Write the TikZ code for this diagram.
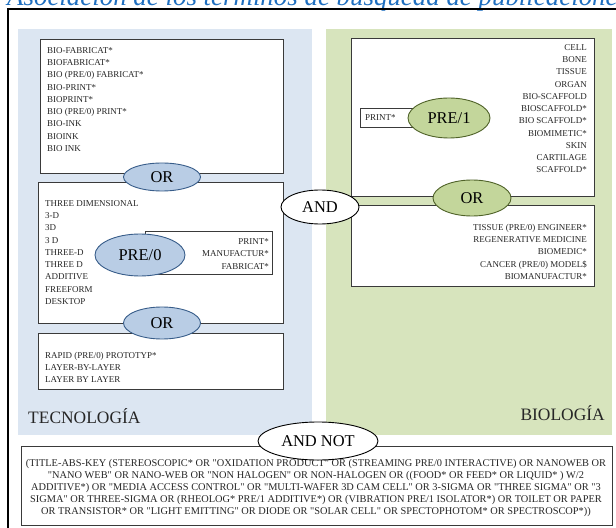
\documentclass[tikz,border=0pt]{standalone}
\usepackage{fontspec}
\setmainfont{Liberation Serif}
\usetikzlibrary{shapes.geometric}

\definecolor{techbg}{HTML}{DCE6F2}
\definecolor{biobg}{HTML}{D7E4BD}
\definecolor{techop}{HTML}{B9CDE5}
\definecolor{techline}{HTML}{385D8A}
\definecolor{bioop}{HTML}{C3D69B}
\definecolor{bioline}{HTML}{4F6228}
\definecolor{captionblue}{HTML}{1F6FC0}
\definecolor{boxline}{HTML}{3A3A3A}
\definecolor{termtext}{HTML}{262626}

% straight double quote inside query strings
\newcommand{\qq}{\textquotedbl}

\tikzset{
  panel/.style={draw=none, anchor=north west, inner sep=0, outer sep=0},
  termbox/.style={draw=boxline, fill=white, line width=0.9bp, anchor=north west, inner sep=0, outer sep=0},
  terms/.style={inner sep=0, text=termtext, font=\fontsize{9}{12.3}\selectfont},
  opnode/.style={ellipse, inner sep=0, line width=0.9bp, font=\fontsize{16.5}{18}\selectfont},
  techopnode/.style={opnode, draw=techline, fill=techop},
  bioopnode/.style={opnode, draw=bioline, fill=bioop},
  joinnode/.style={opnode, draw=black, fill=white},
  panellabel/.style={inner sep=0, font=\fontsize{17.5}{20}\selectfont, text=termtext},
}

\begin{document}
\begin{tikzpicture}[x=1bp, y=-1bp]
\useasboundingbox (0,0) rectangle (616,528);
\clip (0,0) rectangle (616,528);

% caption running above the figure
\node[anchor=base west, inner sep=0, text=captionblue,
      font=\fontsize{27}{30}\selectfont\itshape] (caption) at (7,6)
  {Asociación de los términos de búsqueda de publicaciones};

% outer frame
\draw[black, line width=1.1bp] (8,9) rectangle (624,540);

% the two subject panels
\node[panel, fill=techbg, minimum width=294bp, minimum height=406bp] (techpanel) at (18,29) {};
\node[panel, fill=biobg, minimum width=286bp, minimum height=406bp] (biopanel) at (326,29) {};
\node[panellabel, anchor=base west] (techlabel) at (28,423) {TECNOLOGÍA};
\node[panellabel, anchor=base east] (biolabel) at (605,420) {BIOLOGÍA};

% ---------- technology terms ----------
\node[termbox, minimum width=243bp, minimum height=134bp] (biofab) at (40,39) {};
\node[terms, anchor=north west, align=left] (biofabtxt) at (47,47.2)
  {BIO-FABRICAT*\\ BIOFABRICAT*\\ BIO (PRE/0) FABRICAT*\\ BIO-PRINT*\\ BIOPRINT*\\
   BIO (PRE/0) PRINT*\\ BIO-INK\\ BIOINK\\ BIO INK};

\node[termbox, minimum width=245bp, minimum height=141bp] (threed) at (38,182) {};
\node[terms, anchor=north west, align=left] (threedtxt) at (45,200.3)
  {THREE DIMENSIONAL\\ 3-D\\ 3D\\ 3 D\\ THREE-D\\ THREE D\\ ADDITIVE\\ FREEFORM\\ DESKTOP};

\node[termbox, minimum width=127bp, minimum height=43bp] (process) at (145,231) {};
\node[terms, anchor=north east, align=right] (processtxt) at (269,238.5)
  {PRINT*\\ MANUFACTUR*\\ FABRICAT*};
\node[techopnode, minimum width=90bp, minimum height=42bp] (pre0) at (140,255) {PRE/0};

\node[termbox, minimum width=245bp, minimum height=56bp] (rapid) at (38,333) {};
\node[terms, anchor=north west, align=left] (rapidtxt) at (45,352)
  {RAPID (PRE/0) PROTOTYP*\\ LAYER-BY-LAYER\\ LAYER BY LAYER};

\node[techopnode, minimum width=77bp, minimum height=28bp] (or1) at (162,177) {OR};
\node[techopnode, minimum width=77bp, minimum height=32bp] (or2) at (162,323) {OR};

% ---------- biology terms ----------
\node[termbox, minimum width=243bp, minimum height=158bp] (tissue) at (351,38) {};
\node[terms, anchor=north east, align=right] (tissuetxt) at (587,44.2)
  {CELL\\ BONE\\ TISSUE\\ ORGAN\\ BIO-SCAFFOLD\\ BIOSCAFFOLD*\\ BIO SCAFFOLD*\\
   BIOMIMETIC*\\ SKIN\\ CARTILAGE\\ SCAFFOLD*};

\node[termbox, minimum width=56bp, minimum height=19bp] (printbox) at (360,108) {};
\node[terms, anchor=west] (printtxt) at (365,117.5) {PRINT*};
\node[bioopnode, minimum width=82bp, minimum height=40bp] (pre1) at (449,118) {PRE/1};

\node[termbox, minimum width=243bp, minimum height=81bp] (medicine) at (351,205) {};
\node[terms, anchor=north east, align=right] (medicinetxt) at (587,224)
  {TISSUE (PRE/0) ENGINEER*\\ REGENERATIVE MEDICINE\\ BIOMEDIC*\\
   CANCER (PRE/0) MODEL\$\\ BIOMANUFACTUR*};

\node[bioopnode, minimum width=78bp, minimum height=36bp] (or3) at (472,198) {OR};

% ---------- joining operators ----------
\node[joinnode, minimum width=78bp, minimum height=34bp] (andnode) at (320,207) {AND};

\node[termbox, minimum width=591bp, minimum height=79bp] (exclusions) at (21,446) {};
\node[terms, anchor=north, align=center, font=\fontsize{10.4}{12}\selectfont] (exclusionstxt) at (316,459.5)
  {(TITLE-ABS-KEY (STEREOSCOPIC* OR \qq OXIDATION PRODUCT\qq{} OR (STREAMING PRE/0 INTERACTIVE) OR NANOWEB OR\\
   \qq NANO WEB\qq{} OR NANO-WEB OR \qq NON HALOGEN\qq{} OR NON-HALOGEN OR ((FOOD* OR FEED* OR LIQUID* ) W/2\\
   ADDITIVE*) OR \qq MEDIA ACCESS CONTROL\qq{} OR \qq MULTI-WAFER 3D CAM CELL\qq{} OR 3-SIGMA OR \qq THREE SIGMA\qq{} OR \qq 3\\
   SIGMA\qq{} OR THREE-SIGMA OR (RHEOLOG* PRE/1 ADDITIVE*) OR (VIBRATION PRE/1 ISOLATOR*) OR TOILET OR PAPER\\
   OR TRANSISTOR* OR \qq LIGHT EMITTING\qq{} OR DIODE OR \qq SOLAR CELL\qq{} OR SPECTOPHOTOM* OR SPECTROSCOP*))};

\node[joinnode, minimum width=120bp, minimum height=38bp] (andnot) at (318,441) {AND NOT};
\end{tikzpicture}
\end{document}
